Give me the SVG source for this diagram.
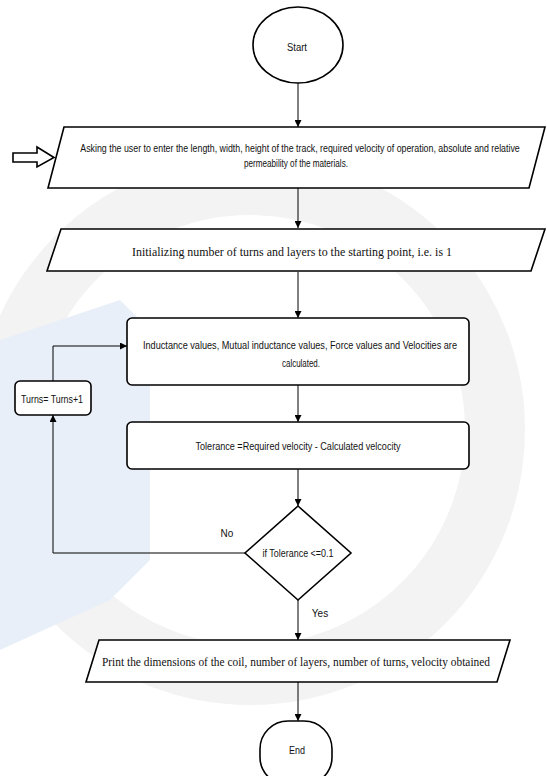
<svg xmlns="http://www.w3.org/2000/svg" width="547" height="776" viewBox="0 0 547 776">
  <defs>
    <marker id="ah" viewBox="0 0 10 10" refX="10" refY="5" markerWidth="7" markerHeight="7" markerUnits="userSpaceOnUse" orient="auto">
      <path d="M0,0 L10,5 L0,10 z" fill="#000"/>
    </marker>
    <style>
      .shape { fill: #fff; stroke: #000; stroke-width: 1.6; }
      .conn { fill: none; stroke: #000; stroke-width: 1; }
      .sans { font-family: "Liberation Sans", Arial, sans-serif; font-size: 10px; fill: #111; }
      .serif { font-family: "Liberation Serif", "Times New Roman", serif; font-size: 12.5px; fill: #111; }
      .wm { fill: none; stroke: #f3f3f3; }
    </style>
  </defs>
  <rect width="547" height="776" fill="#fff"/>
  <g id="watermark">
    <circle cx="250" cy="430" r="245" class="wm" stroke-width="60"/>
    <path d="M0,340 L120,300 L150,330 L150,560 L110,600 L0,650 z" fill="#e9eff8"/>
  </g>

  <g id="connectors">
    <path class="conn" d="M298,83 L298,127" marker-end="url(#ah)"/>
    <path class="conn" d="M298,188 L298,228" marker-end="url(#ah)"/>
    <path class="conn" d="M298,272 L298,318" marker-end="url(#ah)"/>
    <path class="conn" d="M298,385 L298,422" marker-end="url(#ah)"/>
    <path class="conn" d="M298,469 L298,506" marker-end="url(#ah)"/>
    <path class="conn" d="M245,553 L53,553 L53,415" marker-end="url(#ah)"/>
    <path class="conn" d="M53,381 L53,346 L127,346" marker-end="url(#ah)"/>
    <path class="conn" d="M298,600 L298,640" marker-end="url(#ah)"/>
    <path class="conn" d="M298,682 L298,721" marker-end="url(#ah)"/>
    <text class="sans" x="227" y="536.5" text-anchor="middle">No</text>
    <text class="sans" x="320" y="616.5" text-anchor="middle">Yes</text>
  </g>

  <g id="entry-arrow">
    <polygon class="shape" stroke-width="1.4" points="13,153 37,153 37,147 54,157.5 37,167 37,162 13,162"/>
  </g>

  <g id="start">
    <ellipse class="shape" stroke-width="1.2" cx="298" cy="45" rx="45" ry="38"/>
    <text class="sans" x="297" y="50.5" text-anchor="middle" textLength="20" lengthAdjust="spacingAndGlyphs">Start</text>
  </g>

  <g id="input">
    <polygon class="shape" points="64,127 545,127 529,188 48,188"/>
    <text class="sans" transform="translate(300,151.5) scale(0.82,1)" x="0" y="0" text-anchor="middle" textLength="536" lengthAdjust="spacingAndGlyphs">Asking the user to enter the length, width, height of the track, required velocity of operation, absolute and relative</text>
    <text class="sans" x="296" y="166.5" text-anchor="middle" textLength="104" lengthAdjust="spacingAndGlyphs">permeability of the materials.</text>
  </g>

  <g id="init">
    <polygon class="shape" points="61,229 545,229 531,271 47,271"/>
    <text class="serif" x="292" y="256" text-anchor="middle" textLength="320" lengthAdjust="spacingAndGlyphs">Initializing number of turns and layers to the starting point, i.e. is 1</text>
  </g>

  <g id="calc">
    <rect class="shape" x="127" y="318" width="342" height="67" rx="5"/>
    <text class="sans" x="300" y="348.5" text-anchor="middle" textLength="314" lengthAdjust="spacingAndGlyphs">Inductance values, Mutual inductance values, Force values and Velocities are</text>
    <text class="sans" x="301" y="366.5" text-anchor="middle" textLength="38" lengthAdjust="spacingAndGlyphs">calculated.</text>
  </g>

  <g id="tolerance">
    <rect class="shape" x="127" y="422" width="342" height="47" rx="5"/>
    <text class="sans" x="298" y="449.5" text-anchor="middle" textLength="205" lengthAdjust="spacingAndGlyphs">Tolerance =Required velocity - Calculated velcocity</text>
  </g>

  <g id="decision">
    <polygon class="shape" points="298,506 351,553 298,600 245,553"/>
    <text class="sans" x="298" y="556.5" text-anchor="middle" textLength="71" lengthAdjust="spacingAndGlyphs">if Tolerance &lt;=0.1</text>
  </g>

  <g id="increment">
    <rect class="shape" x="15" y="381" width="76" height="34" rx="5"/>
    <text class="sans" x="52" y="402.5" text-anchor="middle" textLength="62" lengthAdjust="spacingAndGlyphs">Turns= Turns+1</text>
  </g>

  <g id="output">
    <polygon class="shape" points="99,640 510,640 497,682 86,682"/>
    <text class="serif" x="296" y="666" text-anchor="middle" textLength="388" lengthAdjust="spacingAndGlyphs">Print the dimensions of the coil, number of layers, number of turns, velocity obtained</text>
  </g>

  <g id="end">
    <rect class="shape" x="260" y="721" width="72" height="64" rx="28" ry="28"/>
    <text class="sans" x="297" y="753.5" text-anchor="middle" textLength="16" lengthAdjust="spacingAndGlyphs">End</text>
  </g>
</svg>
